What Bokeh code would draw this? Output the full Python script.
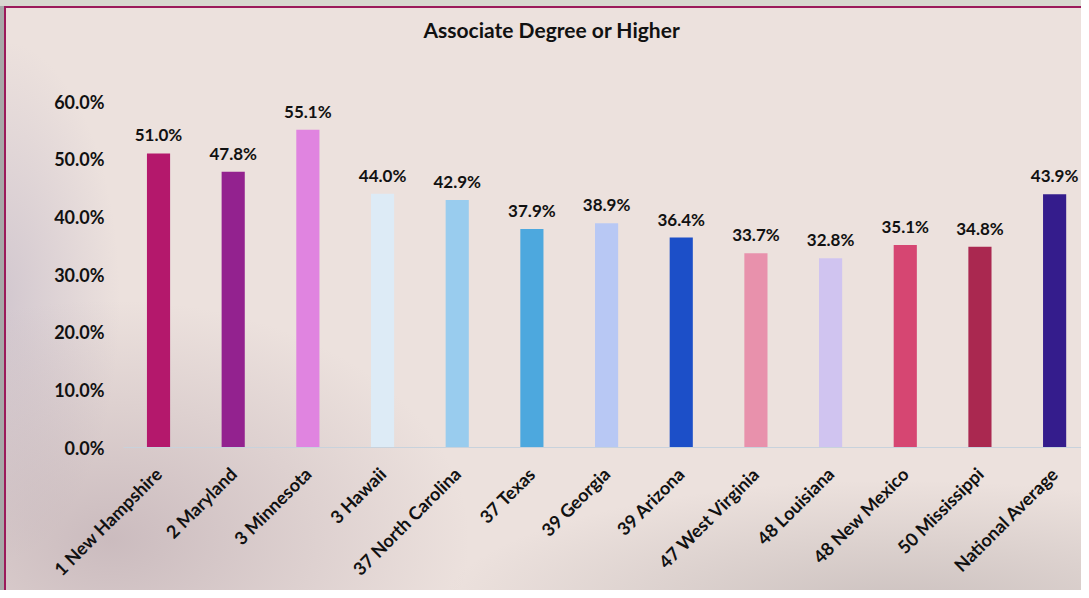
import math
from bokeh.plotting import figure
from bokeh.models import ColumnDataSource, Range1d, FixedTicker, NumeralTickFormatter, Title
from bokeh.embed import file_html
from bokeh.resources import INLINE
from bokeh.core.properties import value

categories = ["1 New Hampshire", "2 Maryland", "3 Minnesota", "3 Hawaii",
              "37 North Carolina", "37 Texas", "39 Georgia", "39 Arizona",
              "47 West Virginia", "48 Louisiana", "48 New Mexico",
              "50 Mississippi", "National Average"]
values = [0.510, 0.478, 0.551, 0.440, 0.429, 0.379, 0.389, 0.364,
          0.337, 0.328, 0.351, 0.348, 0.439]
colors = ["#B4186C", "#93228F", "#E084E0", "#DDEBF6", "#99CCEE", "#4DA8DE",
          "#B8C8F4", "#1C4FC8", "#E891AC", "#D0C4F0", "#D64672", "#AA2850",
          "#341C8C"]
y_ticks = [0.0, 0.1, 0.2, 0.3, 0.4, 0.5, 0.6]
title_text = "Associate Degree or Higher"

FONT = "Lato"
BG = "#ECE1DD"
FRAME = "#9B1B5B"

idx = list(range(len(categories)))
src = ColumnDataSource(dict(
    x=idx, top=values, color=colors,
    label=[f"{v*100:.1f}%" for v in values],
))

p = figure(width=1081, height=590, output_backend="svg", toolbar_location=None,
           x_range=Range1d(-0.469, 12.36), y_range=Range1d(0, 0.6),
           min_border_left=123, min_border_right=0, min_border_top=101,
           min_border_bottom=142)
p.background_fill_color = None
p.border_fill_color = None
p.outline_line_color = None
p.grid.visible = False
p.styles = {
    "background": (
        f"linear-gradient({FRAME},{FRAME}) 4px 6px / 2px 100% no-repeat, "
        f"linear-gradient({FRAME},{FRAME}) 4px 6px / 100% 2px no-repeat, "
        "linear-gradient(#D8D8D0,#D8D8D0) 0 0 / 100% 6px no-repeat, "
        "linear-gradient(#A8A8A8,#A8A8A8) 0 0 / 4px 100% no-repeat, "
        "radial-gradient(ellipse 360px 240px at 110px 540px, rgba(170,150,160,0.5), rgba(170,150,160,0)), "
        "radial-gradient(ellipse 460px 130px at 900px 610px, rgba(170,160,160,0.5), rgba(170,160,160,0)), "
        "radial-gradient(ellipse 120px 260px at 0px 300px, rgba(160,150,180,0.35), rgba(160,150,180,0)), "
        f"{BG}"
    )
}

# spacer panel between frame and title
spacer = Title(text=" ", text_font_size="1px", standoff=52)
p.add_layout(spacer, "above")
t = Title(text=title_text, align="left", offset=300,
          text_font=FONT, text_font_size="21px", text_font_style="bold",
          text_color="#111111", standoff=10)
p.add_layout(t, "above")

p.vbar(x="x", top="top", width=0.31, fill_color="color", line_color=None, source=src)
p.text(x="x", y="top", text="label", source=src, text_align="center",
       text_baseline="bottom", y_offset=-8, text_font=value(FONT),
       text_font_size="17px", text_font_style="bold", text_color="#111111")

xa = p.xaxis[0]
xa.ticker = FixedTicker(ticks=idx)
xa.major_label_overrides = {i: c for i, c in zip(idx, categories)}
xa.major_label_orientation = math.pi / 4
xa.major_tick_line_color = None
xa.minor_tick_line_color = None
xa.axis_line_color = "#C8D2DC"
xa.major_label_text_font = FONT
xa.major_label_text_font_size = "18px"
xa.major_label_text_font_style = "bold"
xa.major_label_text_color = "#111111"
xa.major_label_standoff = 17

ya = p.yaxis[0]
ya.ticker = FixedTicker(ticks=y_ticks)
ya.formatter = NumeralTickFormatter(format="0.0%")
ya.axis_line_color = None
ya.major_tick_line_color = None
ya.minor_tick_line_color = None
ya.major_label_text_font = FONT
ya.major_label_text_font_size = "18px"
ya.major_label_text_font_style = "bold"
ya.major_label_text_color = "#111111"
ya.major_label_standoff = 13

open("out.html", "w").write(file_html(p, INLINE))
